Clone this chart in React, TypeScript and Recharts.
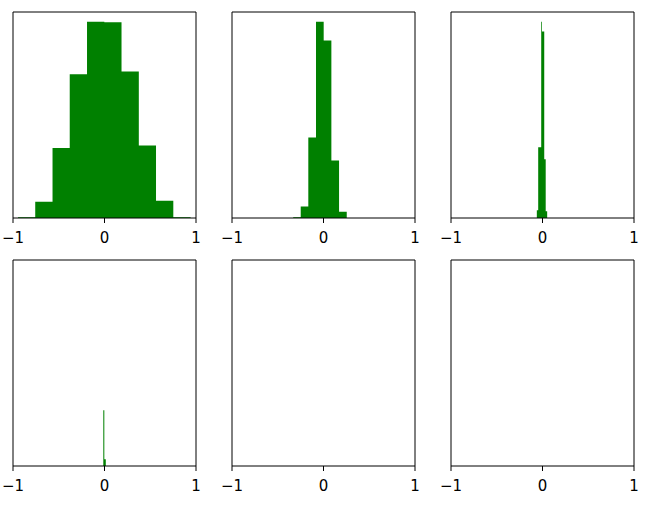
import { ComposedChart, Area, XAxis, YAxis } from 'recharts'

const GREEN = '#008000'
const xTicks = [-1, 0, 1]

// histogram bin edges and bar heights (relative to each panel's tallest bin)
const edges1 = [-0.945, -0.757, -0.568, -0.38, -0.191, -0.002, 0.186, 0.375, 0.563, 0.752, 0.941]
const heights1 = [0.004, 0.083, 0.357, 0.733, 1.0, 0.998, 0.747, 0.369, 0.088, 0.004]
const edges2 = [-0.331, -0.249, -0.166, -0.082, 0.002, 0.086, 0.17, 0.254]
const heights2 = [0.004, 0.058, 0.41, 1.0, 0.905, 0.293, 0.032]
const edges3 = [-0.062, -0.047, -0.014, -0.006, 0.019, 0.035, 0.051]
const heights3 = [0.04, 0.36, 1.0, 0.95, 0.3, 0.035]
const edges4 = [-0.013, -0.002, 0.014]
const heights4 = [0.284, 0.035]
const edges5 = [-0.001, 0.001]
const heights5 = [0]
const edges6 = [-0.001, 0.001]
const heights6 = [0]

const panels = [
  { edges: edges1, heights: heights1 },
  { edges: edges2, heights: heights2 },
  { edges: edges3, heights: heights3 },
  { edges: edges4, heights: heights4 },
  { edges: edges5, heights: heights5 },
  { edges: edges6, heights: heights6 },
]

const colLefts = [13, 232, 451]
const rowTops = [12, 260]
const PLOT_W = 183
const PLOT_H = 206
const MX = 14

const fmt = (v: number) => String(v).replace('-', '\u2212')

function Hist({ edges, heights }: { edges: number[]; heights: number[] }) {
  const data = edges.map((e, i) => ({ x: e, h: heights[Math.min(i, heights.length - 1)] }))
  return (
    <ComposedChart width={PLOT_W + MX * 2} height={PLOT_H + 2 + 40} data={data}
      margin={{ top: 1, right: MX - 1, left: MX - 1, bottom: 0 }}>
      <XAxis dataKey="x" type="number" domain={[-1, 1]} ticks={xTicks} interval={0} allowDataOverflow
        tickFormatter={fmt} tickSize={5} tickMargin={9} height={40}
        axisLine={{ stroke: '#000' }} tickLine={{ stroke: '#000' }}
        tick={{ fill: '#000', fontSize: 15, fontFamily: 'DejaVu Sans' }} />
      <XAxis xAxisId="top" orientation="top" dataKey="x" type="number" domain={[-1, 1]} allowDataOverflow
        height={1} ticks={xTicks} tick={false} tickLine={false} axisLine={{ stroke: '#000' }} />
      <YAxis type="number" domain={[0, 1.05]} allowDataOverflow width={1} tick={false} tickLine={false} axisLine={{ stroke: '#000' }} />
      <YAxis yAxisId="r" orientation="right" type="number" domain={[0, 1.05]} allowDataOverflow width={1} tick={false} tickLine={false} axisLine={{ stroke: '#000' }} />
      <Area type="stepAfter" dataKey="h" fill={GREEN} fillOpacity={1} stroke="none" isAnimationActive={false} />
    </ComposedChart>
  )
}

export default function App() {
  return (
    <div style={{ position: 'absolute', left: 0, top: 0, width: 665, height: 513, background: '#fff' }}>
      {panels.map((p, i) => (
        <div key={i} style={{ position: 'absolute', left: colLefts[i % 3] - MX, top: rowTops[Math.floor(i / 3)] - 2 }}>
          <Hist edges={p.edges} heights={p.heights} />
        </div>
      ))}
    </div>
  )
}
